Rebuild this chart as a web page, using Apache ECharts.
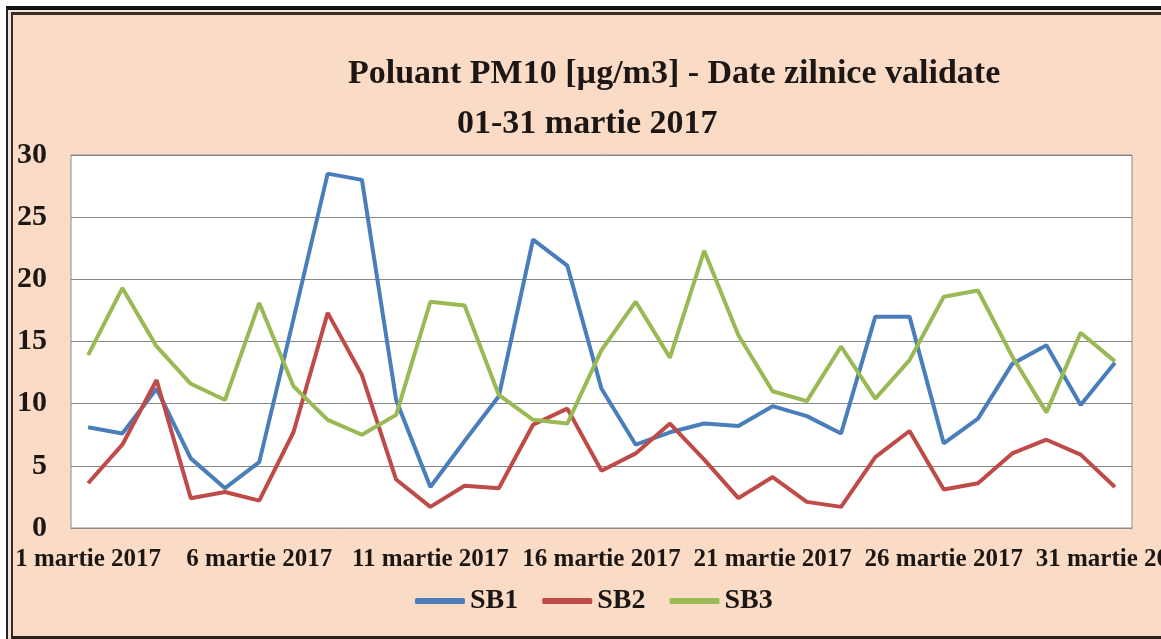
<!DOCTYPE html>
<html>
<head>
<meta charset="utf-8">
<script src="https://cdn.jsdelivr.net/npm/echarts@6/dist/echarts.min.js"></script>
<style>
  html, body { margin: 0; padding: 0; background: #fff; overflow: hidden; }
  #wrap { position: relative; width: 1161px; height: 639px; overflow: hidden; }
  /* rama dubla din jurul graficului */
  .frameOut {
    position: absolute; left: 6px; top: 6px; width: 1200px; height: 633px;
    border-top: 4px solid #111; border-left: 2px solid #222;
    background: #efe3dc; box-sizing: border-box;
  }
  .frameIn {
    position: absolute; left: 3px; top: 2px; right: 0; bottom: 0;
    border-top: 3px solid #3a2a22; border-left: 2px solid #3a2a22;
    border-bottom: 3px solid #2a201c;
    background: #fadbc5;
  }
  #chart { position: absolute; left: 0; top: 0; width: 1161px; height: 639px; }
</style>
</head>
<body>
<div id="wrap">
  <div class="frameOut"><div class="frameIn"></div></div>
  <div id="chart"></div>
</div>
<script>
// zilele lunii martie 2017
const days = [1, 2, 3, 4, 5, 6, 7, 8, 9, 10, 11, 12, 13, 14, 15, 16, 17, 18, 19, 20,
  21, 22, 23, 24, 25, 26, 27, 28, 29, 30, 31]
const categories = days.map((d) => d + ' martie 2017')

// PM10 [µg/m3] pe statii
const sb1 = [8.1, 7.6, 11.2, 5.6, 3.2, 5.3, 16.8, 28.5, 28.0, 10.3, 3.3, 7.0, 10.6, 23.2, 21.1, 11.2,
  6.7, 7.7, 8.4, 8.2, 9.8, 9.0, 7.6, 17.0, 17.0, 6.8, 8.8, 13.2, 14.7, 9.9, 13.3]
const sb2 = [3.6, 6.7, 11.9, 2.4, 2.9, 2.2, 7.7, 17.3, 12.3, 3.9, 1.7, 3.4, 3.2, 8.3, 9.6, 4.6,
  6.0, 8.4, 5.5, 2.4, 4.1, 2.1, 1.7, 5.7, 7.8, 3.1, 3.6, 6.0, 7.1, 5.9, 3.3]
const sb3 = [13.9, 19.3, 14.6, 11.6, 10.3, 18.1, 11.4, 8.7, 7.5, 9.1, 18.2, 17.9, 10.7, 8.7, 8.4, 14.3,
  18.2, 13.7, 22.3, 15.5, 11.0, 10.2, 14.6, 10.4, 13.5, 18.6, 19.1, 13.8, 9.3, 15.7, 13.4]

const serif = '"Liberation Serif", "Times New Roman", serif'
const ink = '#1c1714'

let myChart = echarts.init(document.getElementById('chart'))

const option = {
  backgroundColor: 'transparent',
  animation: false,
  title: [
    {
      text: 'Poluant PM10 [µg/m3] - Date zilnice validate',
      left: 348,
      top: 57,
      padding: 0,
      textStyle: { fontFamily: serif, fontSize: 34, fontWeight: 'bold', color: ink },
    },
    {
      text: '01-31 martie 2017',
      left: 457,
      top: 107,
      padding: 0,
      textStyle: { fontFamily: serif, fontSize: 34, fontWeight: 'bold', color: ink },
    },
  ],
  legend: {
    data: ['SB1', 'SB2', 'SB3'],
    left: 415,
    top: 587,
    padding: 0,
    icon: 'roundRect',
    itemWidth: 50,
    itemHeight: 6,
    itemGap: 24,
    textStyle: { fontFamily: serif, fontSize: 28, fontWeight: 'bold', color: ink },
  },
  grid: {
    left: 71,
    right: 29,
    top: 155,
    bottom: 111,
    outerBoundsMode: 'none',
    containLabel: false,
    show: true,
    backgroundColor: '#fff',
    borderColor: '#8c8c8c',
    borderWidth: 1,
  },
  xAxis: {
    type: 'category',
    data: categories,
    boundaryGap: true,
    axisLine: { lineStyle: { color: '#8c8c8c' } },
    axisTick: { show: false },
    axisLabel: {
      interval: 4,
      margin: 19,
      fontFamily: serif,
      fontSize: 25,
      fontWeight: 'bold',
      color: ink,
    },
  },
  yAxis: {
    type: 'value',
    min: 0,
    max: 30,
    interval: 5,
    axisLine: { show: false },
    axisTick: { show: false },
    splitLine: { lineStyle: { color: '#868686', width: 1 } },
    axisLabel: {
      margin: 24,
      fontFamily: serif,
      fontSize: 30,
      fontWeight: 'bold',
      color: ink,
    },
  },
  series: [
    { name: 'SB1', type: 'line', data: sb1, symbol: 'none', color: '#4a7ebb', lineStyle: { width: 4 } },
    { name: 'SB2', type: 'line', data: sb2, symbol: 'none', color: '#be4b48', lineStyle: { width: 4 } },
    { name: 'SB3', type: 'line', data: sb3, symbol: 'none', color: '#98b954', lineStyle: { width: 4 } },
  ],
}

myChart.setOption(option)
</script>
</body>
</html>
